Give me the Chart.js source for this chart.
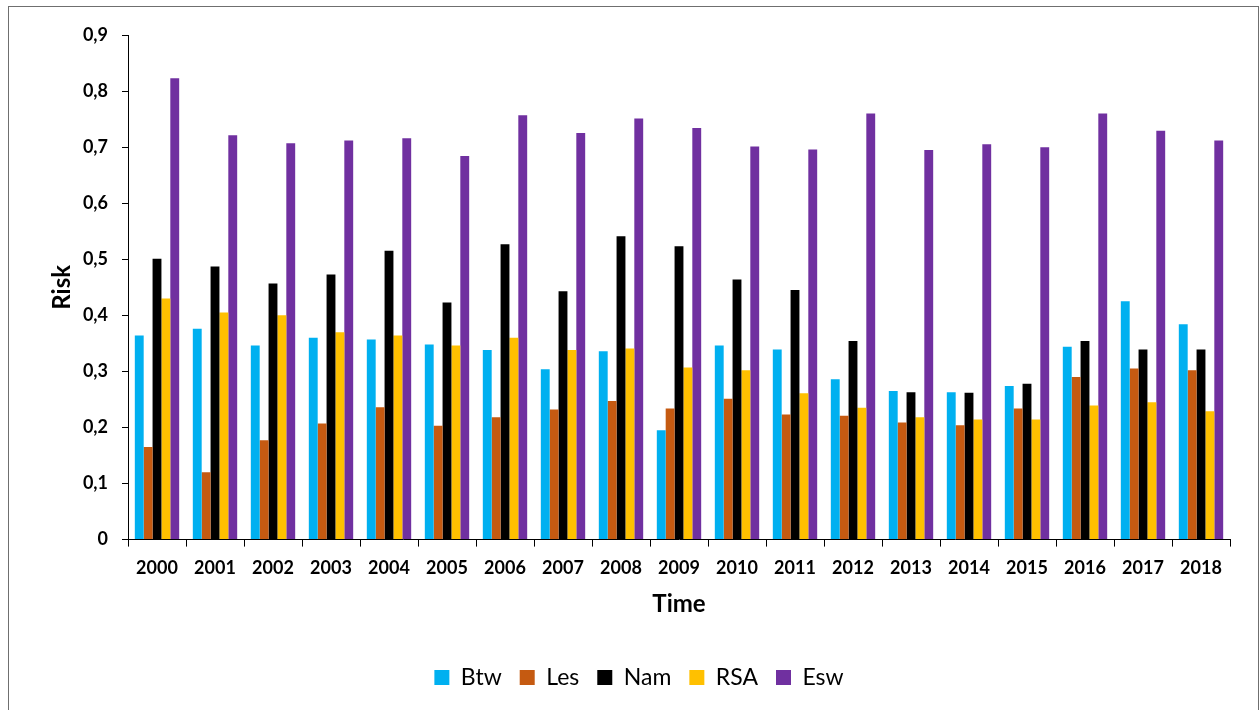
<!DOCTYPE html>
<html>
<head>
<meta charset="utf-8">
<script src="https://cdn.jsdelivr.net/npm/chart.js@4/dist/chart.umd.min.js"></script>
<style>
  html, body { margin: 0; padding: 0; background: #fff; }
  #wrap { position: relative; width: 1259px; height: 710px; overflow: hidden; }
  #c { position: absolute; left: 0; top: 0; }
  #frame { position: absolute; left: 8px; top: 6px; width: 1249px; height: 720px; border: 1px solid #6f6f6f; pointer-events: none; }
</style>
</head>
<body>
<div id="wrap">
  <canvas id="c" width="1259" height="710"></canvas>
  <div id="frame"></div>
</div>
<script>
const years = ['2000','2001','2002','2003','2004','2005','2006','2007','2008','2009','2010','2011','2012','2013','2014','2015','2016','2017','2018'];
const btw = [0.364,0.376,0.346,0.360,0.357,0.348,0.338,0.304,0.336,0.195,0.346,0.339,0.286,0.265,0.263,0.274,0.344,0.425,0.384];
const les = [0.165,0.120,0.177,0.207,0.236,0.203,0.218,0.232,0.247,0.234,0.251,0.223,0.221,0.209,0.204,0.234,0.290,0.305,0.302];
const nam = [0.501,0.487,0.457,0.473,0.515,0.423,0.527,0.443,0.541,0.523,0.464,0.445,0.354,0.263,0.262,0.278,0.354,0.339,0.339];
const rsa = [0.430,0.405,0.400,0.370,0.364,0.346,0.360,0.338,0.341,0.307,0.302,0.261,0.235,0.218,0.214,0.214,0.239,0.245,0.229];
const esw = [0.823,0.721,0.707,0.712,0.716,0.684,0.757,0.725,0.751,0.734,0.701,0.696,0.760,0.695,0.705,0.700,0.760,0.729,0.712];
const seriesNames = ['Btw','Les','Nam','RSA','Esw'];
const yTicks = [0,0.1,0.2,0.3,0.4,0.5,0.6,0.7,0.8,0.9];

const colors = ['#00B0F0','#C55A11','#000000','#FFC000','#7030A0'];
const values = [btw, les, nam, rsa, esw];

const FONT = 'Lato, "Open Sans", sans-serif';

new Chart(document.getElementById('c'), {
  type: 'bar',
  data: {
    labels: years,
    datasets: seriesNames.map((n, i) => ({
      label: n,
      data: values[i],
      backgroundColor: colors[i],
      borderWidth: 0,
      categoryPercentage: 0.765,
      barPercentage: 1.0
    }))
  },
  options: {
    responsive: false,
    animation: false,
    devicePixelRatio: 1,
    layout: { padding: { left: 48, right: 29, top: 35, bottom: 11 } },
    plugins: {
      tooltip: { enabled: false },
      legend: {
        position: 'bottom',
        labels: {
          color: '#000',
          font: { family: FONT, size: 23 },
          boxWidth: 15,
          boxHeight: 15,
          padding: 18
        }
      }
    },
    scales: {
      x: {
        offset: true,
        grid: { display: true, drawOnChartArea: false, drawTicks: true, tickLength: 7, color: '#000', offset: true },
        border: { display: true, color: '#000', width: 1 },
        ticks: { color: '#000', font: { family: FONT, size: 18, weight: 'bold' }, padding: 11, maxRotation: 0, autoSkip: false },
        title: { display: true, text: 'Time', color: '#000', font: { family: FONT, size: 24, weight: 'bold' }, padding: { top: 0, bottom: 29 } }
      },
      y: {
        min: 0,
        max: 0.9,
        afterBuildTicks: (s) => { s.ticks = yTicks.map(v => ({ value: v })); },
        afterFit: (s) => { s.width = 80; },
        grid: { display: true, drawOnChartArea: false, drawTicks: true, tickLength: 6, color: '#000' },
        border: { display: true, color: '#000', width: 1 },
        ticks: {
          color: '#000',
          font: { family: FONT, size: 18, weight: 'bold' },
          padding: 14,
          callback: (v) => v === 0 ? '0' : Number(v).toFixed(1).replace('.', ',')
        },
        title: { display: true, text: 'Risk', color: '#000', font: { family: FONT, size: 24, weight: 'bold' }, padding: { top: 0, bottom: 0 } }
      }
    }
  }
});
</script>
</body>
</html>
